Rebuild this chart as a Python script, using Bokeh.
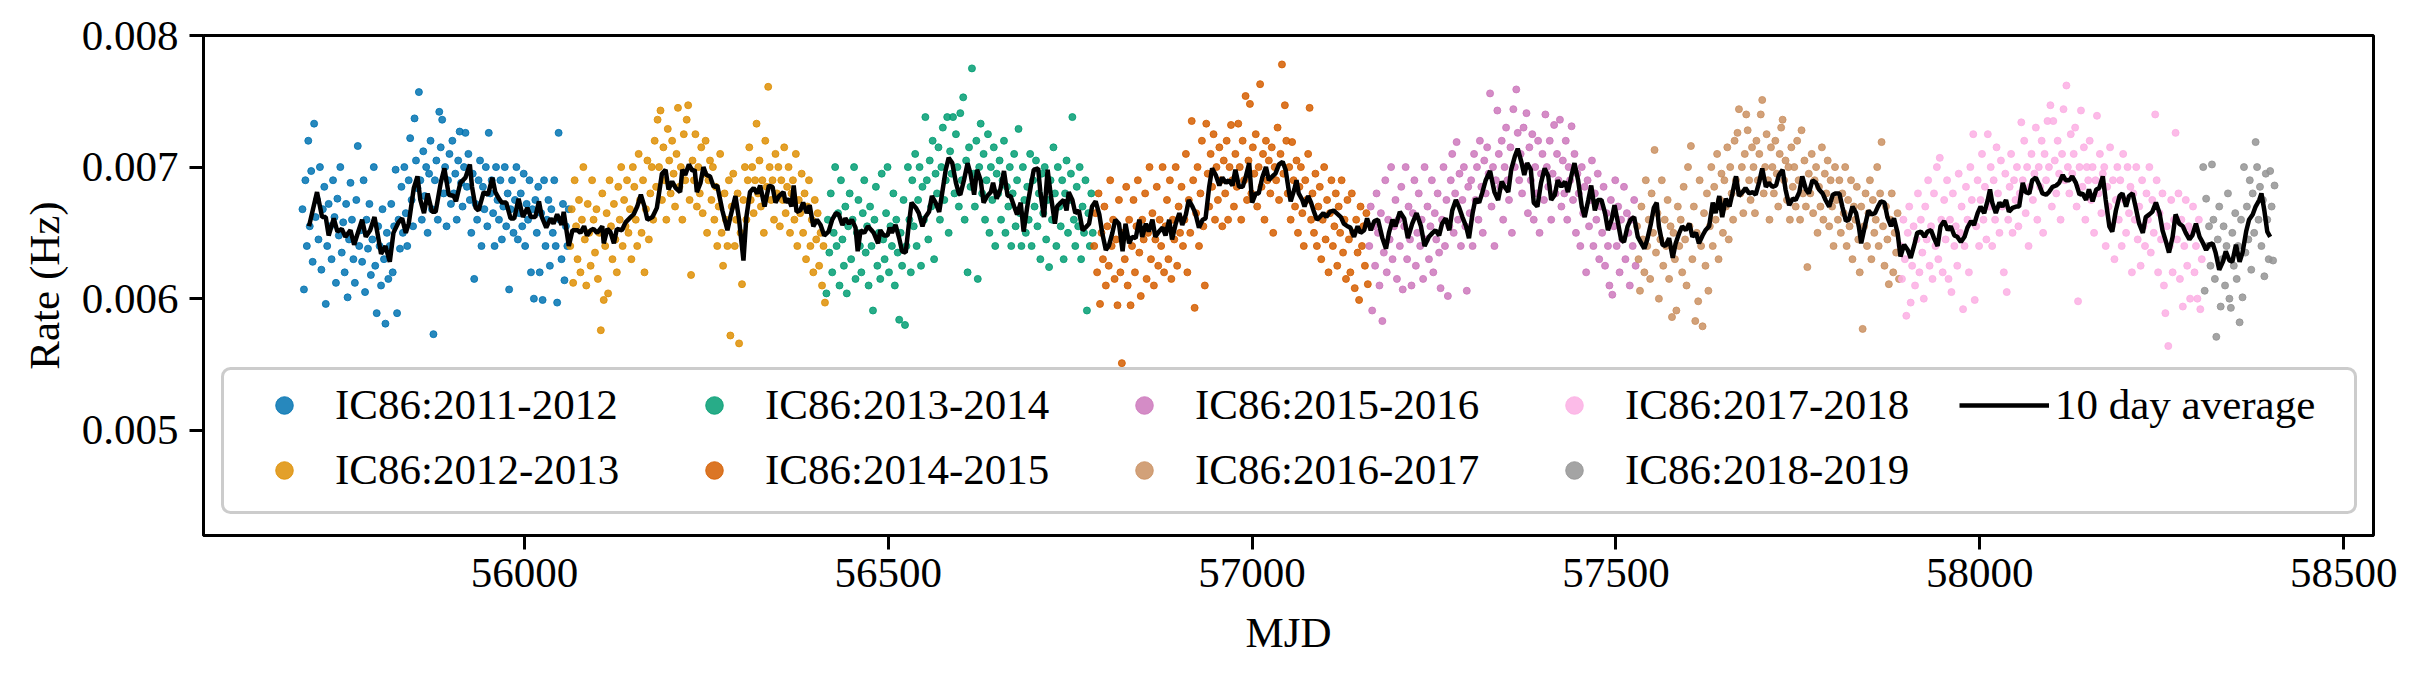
import numpy as np
from bokeh.plotting import figure
from bokeh.models import Range1d, FixedTicker, PrintfTickFormatter, Legend, LegendItem, BoxAnnotation
from bokeh.embed import file_html
from bokeh.resources import INLINE

# rates below are in units of 1e-5 Hz
RATE_UNIT = 1e-5
DAY_STEP = 2

SEASON_LABELS = ["IC86:2011-2012", "IC86:2012-2013", "IC86:2013-2014", "IC86:2014-2015",
                 "IC86:2015-2016", "IC86:2016-2017", "IC86:2017-2018", "IC86:2018-2019"]
SEASON_COLORS = ["#0173b2", "#de8f05", "#029e73", "#d55e00",
                 "#cc78bc", "#ca9161", "#fbafe4", "#949494"]
SEASON_FIRST_DAY = [55695, 56063, 56415, 56783, 57161, 57529, 57891, 58307]

RATE_2011 = [668, 607, 690, 640, 720, 655, 697, 628, 733, 662,
             675, 645, 700, 622, 668, 685, 596, 640, 672, 655,
             630, 690, 662, 612, 676, 648, 700, 635, 658, 620,
             672, 601, 645, 688, 660, 630, 612, 675, 716, 640,
             652, 628, 690, 605, 660, 638, 672, 618, 645, 700,
             625, 589, 655, 640, 610, 668, 630, 581, 650, 615,
             640, 672, 620, 655, 698, 589, 660, 638, 685, 650,
             700, 665, 640, 690, 722, 675, 655, 737, 705, 684,
             757, 690, 660, 712, 678, 700, 650, 695, 720, 668,
             573, 690, 705, 660, 742, 715, 736, 680, 700, 655,
             690, 710, 672, 720, 680, 695, 660, 705, 727, 688,
             670, 700, 726, 685, 710, 675, 650, 695, 615, 672,
             660, 690, 705, 640, 685, 668, 700, 655, 726, 680,
             690, 665, 640, 700, 675, 660, 690, 645, 670, 700,
             655, 680, 607, 668, 690, 650, 675, 700, 645, 665,
             680, 655, 695, 640, 672, 660, 690, 620, 668, 600,
             675, 650, 685, 620, 665, 599, 690, 640, 660, 675,
             625, 668, 650, 690, 640, 597, 726, 660, 630, 672,
             614, 655, 640, 668]
RATE_2012 = [640, 668, 612, 690, 655, 630, 675, 620, 660, 700,
             645, 610, 672, 650, 625, 690, 660, 635, 668, 615,
             650, 576, 680, 599, 640, 665, 604, 690, 655, 630,
             672, 645, 620, 685, 660, 700, 640, 675, 655, 690,
             650, 668, 630, 700, 685, 660, 640, 710, 675, 650,
             690, 620, 668, 705, 645, 680, 700, 660, 720, 685,
             736, 700, 743, 675, 715, 690, 660, 729, 705, 680,
             720, 695, 670, 710, 745, 685, 700, 660, 725, 690,
             736, 747, 675, 618, 705, 690, 725, 670, 700, 680,
             715, 665, 695, 720, 650, 690, 705, 675, 700, 660,
             685, 640, 670, 710, 650, 625, 680, 660, 640, 690,
             572, 670, 695, 640, 660, 680, 566, 650, 611, 675,
             700, 660, 690, 715, 675, 700, 665, 690, 733, 680,
             705, 670, 690, 650, 720, 685, 761, 700, 675, 690,
             660, 710, 680, 700, 655, 690, 675, 715, 665, 685,
             700, 650, 680, 690, 660, 710, 640, 675, 665, 695,
             650, 680, 630, 670, 690, 640, 660, 620, 675, 645,
             665, 625, 650, 610, 640, 597]
RATE_2013 = [604, 660, 635, 680, 620, 650, 700, 640, 665, 610,
             690, 645, 625, 670, 604, 655, 680, 630, 660, 700,
             615, 650, 675, 640, 620, 665, 690, 635, 655, 610,
             670, 640, 591, 660, 685, 625, 650, 615, 695, 645,
             630, 665, 700, 620, 655, 640, 680, 610, 660, 635,
             584, 650, 625, 675, 580, 640, 700, 660, 620, 690,
             655, 710, 640, 675, 700, 625, 685, 660, 738, 690,
             645, 705, 670, 720, 630, 695, 680, 715, 660, 700,
             730, 675, 690, 738, 650, 712, 695, 738, 680, 725,
             700, 670, 741, 690, 753, 660, 705, 620, 715, 685,
             775, 695, 670, 720, 615, 700, 733, 680, 710, 660,
             690, 725, 650, 700, 675, 715, 640, 695, 680, 705,
             660, 690, 720, 650, 685, 670, 700, 640, 680, 710,
             655, 690, 729, 665, 640, 700, 675, 650, 685, 660,
             710, 640, 690, 670, 705, 655, 680, 630, 695, 665,
             700, 645, 675, 624, 690, 660, 715, 680, 640, 700,
             670, 655, 690, 630, 680, 705, 650, 675, 695, 738,
             660, 640, 685, 655, 700, 630, 670, 650, 690, 591,
             665, 640, 680, 650]
RATE_2014 = [640, 665, 620, 680, 596, 650, 630, 670, 610, 655,
             625, 690, 640, 660, 615, 645, 595, 675, 620, 551,
             650, 630, 685, 610, 660, 595, 640, 675, 620, 655,
             690, 635, 602, 660, 645, 680, 615, 650, 700, 630,
             665, 610, 645, 685, 625, 660, 640, 700, 620, 655,
             675, 630, 690, 615, 660, 645, 700, 625, 670, 650,
             685, 640, 660, 710, 620, 675, 650, 735, 690, 593,
             665, 700, 640, 680, 720, 655, 610, 733, 695, 670,
             710, 685, 725, 660, 700, 675, 715, 690, 655, 705,
             680, 720, 660, 700, 732, 690, 670, 710, 685, 733,
             700, 660, 720, 690, 754, 675, 705, 748, 680, 715,
             695, 725, 670, 700, 763, 685, 710, 660, 720, 690,
             705, 680, 715, 650, 700, 690, 730, 675, 710, 778,
             695, 747, 720, 680, 700, 660, 719, 690, 670, 705,
             650, 685, 700, 665, 640, 690, 675, 710, 745, 660,
             680, 650, 695, 640, 670, 685, 630, 660, 700, 645,
             675, 620, 665, 690, 640, 655, 680, 625, 670, 650,
             690, 635, 660, 615, 675, 645, 620, 680, 650, 608,
             660, 635, 599, 670, 640, 655, 625, 665, 611]
RATE_2015 = [640, 670, 591, 655, 625, 680, 650, 610, 665, 583,
             635, 690, 620, 660, 645, 700, 630, 655, 675, 615,
             660, 640, 685, 607, 655, 700, 630, 670, 645, 610,
             665, 690, 625, 650, 680, 640, 660, 615, 700, 645,
             670, 630, 655, 690, 620, 665, 645, 680, 635, 608,
             660, 700, 640, 675, 602, 655, 690, 710, 650, 680,
             719, 660, 695, 640, 675, 700, 655, 606, 685, 665,
             690, 640, 710, 675, 700, 660, 720, 685, 650, 705,
             680, 715, 695, 756, 670, 700, 640, 690, 743, 710,
             685, 720, 660, 700, 730, 690, 675, 715, 650, 744,
             700, 759, 726, 690, 710, 680, 730, 700, 741, 665,
             715, 690, 725, 660, 700, 680, 720, 650, 695, 710,
             675, 740, 700, 685, 720, 660, 695, 732, 680, 710,
             690, 736, 670, 705, 680, 720, 660, 700, 690, 731,
             675, 710, 650, 695, 680, 640, 700, 665, 685, 620,
             690, 655, 675, 705, 640, 680, 660, 695, 630, 670,
             650, 685, 625, 665, 640, 610, 675, 603, 655, 690,
             640, 670, 620, 660, 645, 685, 630, 665, 650, 610,
             660, 640, 675, 625]
RATE_2016 = [655, 630, 606, 670, 645, 620, 690, 640, 660, 615,
             680, 650, 713, 635, 665, 600, 645, 690, 625, 660,
             640, 675, 615, 655, 586, 650, 630, 591, 670, 640,
             660, 620, 685, 645, 610, 700, 655, 716, 630, 670,
             583, 650, 598, 690, 640, 579, 665, 625, 680, 606,
             655, 700, 640, 685, 660, 710, 630, 675, 695, 650,
             690, 670, 715, 645, 700, 680, 660, 720, 690, 726,
             744, 680, 700, 665, 710, 740, 728, 690, 675, 715,
             700, 665, 720, 690, 710, 740, 751, 680, 700, 725,
             690, 660, 715, 700, 680, 720, 695, 670, 710, 730,
             736, 690, 705, 675, 700, 660, 715, 685, 700, 670,
             720, 690, 660, 728, 680, 705, 670, 624, 695, 680,
             710, 665, 690, 700, 650, 685, 670, 715, 660, 695,
             680, 705, 655, 690, 670, 640, 700, 675, 660, 690,
             650, 680, 665, 700, 640, 675, 655, 690, 630, 670,
             660, 685, 645, 620, 670, 577, 655, 680, 640, 665,
             690, 630, 675, 650, 660, 700, 640, 680, 719, 655,
             625, 670, 645, 611, 660, 680, 620, 650, 635, 665, 615]
RATE_2017 = [640, 615, 660, 630, 587, 650, 670, 597, 625, 655,
             610, 645, 680, 620, 660, 635, 600, 670, 645, 690,
             625, 655, 615, 680, 640, 700, 630, 707, 660, 620,
             675, 645, 690, 615, 660, 605, 680, 640, 655, 625,
             695, 650, 670, 592, 640, 685, 660, 620, 700, 675,
             725, 599, 655, 690, 640, 675, 710, 660, 685, 645,
             725, 670, 700, 640, 690, 660, 715, 680, 650, 705,
             670, 620, 695, 605, 660, 685, 710, 650, 690, 675,
             700, 655, 680, 734, 690, 720, 665, 700, 640, 685,
             710, 675, 695, 730, 660, 700, 685, 720, 650, 710,
             690, 735, 700, 747, 670, 735, 705, 680, 720, 695,
             660, 710, 744, 690, 762, 700, 680, 725, 695, 710,
             730, 670, 598, 700, 743, 685, 715, 660, 700, 690,
             720, 675, 700, 650, 690, 739, 680, 710, 665, 695,
             700, 640, 685, 670, 715, 655, 690, 630, 675, 700,
             660, 690, 640, 710, 675, 650, 700, 665, 685, 620,
             680, 660, 700, 645, 670, 625, 690, 655, 640, 680,
             660, 700, 635, 675, 650, 740, 690, 620, 665, 645,
             680, 610, 589, 655, 564, 640, 675, 620, 660, 726,
             645, 680, 615, 660, 594, 640, 675, 625, 655, 600,
             650, 670, 620, 640, 600, 660, 592, 630]
RATE_2018 = [700, 606, 676, 640, 655, 625, 702, 660, 615, 571,
             645, 670, 594, 630, 655, 610, 640, 680, 600, 593,
             650, 625, 665, 615, 640, 582, 660, 601, 700, 635,
             670, 645, 690, 622, 680, 650, 719, 700, 660, 685,
             640, 675, 617, 695, 660, 630, 697, 670, 629, 686]

LINE_LABEL = "10 day average"
LINE_MJD = [
    55704, 55715, 55722, 55727, 55731, 55738, 55743, 55749, 55754, 55761, 55766, 55770, 55777, 55782,
    55788, 55794, 55798, 55803, 55809, 55815, 55820, 55827, 55832, 55837, 55841, 55848, 55853, 55857,
    55862, 55867, 55873, 55878, 55885, 55890, 55896, 55903, 55906, 55912, 55919, 55925, 55928, 55933,
    55937, 55944, 55950, 55956, 55960, 55965, 55969, 55975, 55981, 55986, 55992, 55998, 56004, 56009,
    56015, 56020, 56024, 56030, 56036, 56040, 56045, 56051, 56054, 56061, 56066, 56073, 56077, 56082,
    56086, 56091, 56095, 56100, 56107, 56109, 56114, 56118, 56123, 56127, 56134, 56139, 56146,
    56150, 56155, 56160, 56165, 56169, 56176, 56182, 56189, 56194, 56198, 56203, 56208, 56214, 56217,
    56221, 56226, 56231, 56234, 56237, 56242, 56246, 56250, 56255, 56260, 56265, 56272, 56279, 56283,
    56290, 56295, 56301, 56305, 56310, 56315, 56320, 56324, 56330, 56336, 56341, 56345, 56350, 56356,
    56359, 56363, 56367, 56370, 56374, 56379, 56383, 56388, 56392, 56397, 56402, 56407, 56412, 56418,
    56423, 56428, 56432, 56437, 56441, 56446, 56450, 56455, 56458, 56462, 56467, 56472, 56477, 56480,
    56486, 56489, 56494, 56499, 56502, 56505, 56510, 56515, 56519, 56524, 56528, 56532, 56538, 56542,
    56547, 56551, 56556, 56560, 56565, 56570, 56574, 56579, 56583, 56588, 56593, 56597,
    56599, 56604, 56609, 56613, 56618, 56622, 56627, 56631, 56636, 56641, 56644, 56649, 56654, 56659,
    56664, 56668, 56673, 56677, 56682, 56686, 56691, 56696, 56700, 56706, 56709, 56714, 56719, 56723,
    56729, 56732, 56737, 56741, 56745, 56748, 56753, 56757, 56762, 56767, 56771, 56776, 56780, 56785,
    56790, 56794, 56799, 56803, 56808, 56812, 56817, 56822, 56826, 56831, 56835, 56840, 56845, 56849,
    56854, 56858, 56863, 56867, 56872, 56877, 56881, 56886, 56890, 56895, 56900, 56904, 56909, 56913,
    56918, 56922, 56927, 56932, 56936, 56941, 56945, 56950, 56955, 56959, 56964, 56968, 56973, 56977,
    56982, 56987, 56991, 56996, 57000, 57005, 57009, 57014, 57019, 57023, 57028, 57032, 57037, 57042,
    57046, 57051,
    57053, 57058, 57061, 57064, 57069, 57072, 57077, 57081, 57085, 57089, 57093, 57098, 57102, 57107,
    57112, 57116, 57122, 57126, 57131, 57135, 57140, 57145, 57149, 57154, 57158, 57163, 57168, 57173,
    57179, 57184, 57188, 57193, 57197, 57203, 57209, 57214, 57220, 57226, 57232, 57237, 57243, 57248,
    57252, 57257, 57261, 57266, 57271, 57275, 57280, 57284, 57289, 57294, 57298, 57303, 57307, 57312,
    57316, 57321, 57327, 57333, 57338, 57343, 57347, 57352, 57356, 57361, 57365, 57370, 57374, 57378,
    57383, 57387, 57392, 57397, 57402, 57407, 57411, 57416, 57420, 57425, 57430, 57434, 57439, 57443,
    57448, 57453, 57457, 57462, 57466, 57471, 57475, 57480, 57485, 57489, 57494, 57498, 57503, 57507,
    57511, 57516, 57520, 57525, 57530, 57534, 57539, 57543, 57548, 57552, 57556, 57559, 57564, 57568,
    57573, 57578, 57582, 57587, 57591, 57596, 57601, 57605, 57610, 57614, 57619, 57623, 57628, 57633,
    57637, 57642, 57646, 57651, 57656, 57660, 57665, 57669, 57674, 57678, 57683, 57688, 57692, 57697,
    57701, 57706, 57710, 57715, 57720, 57724, 57729, 57733, 57738, 57743, 57747, 57752, 57756, 57761,
    57765, 57770, 57775, 57779, 57784, 57788, 57793, 57798, 57802, 57807, 57811, 57816, 57820, 57825,
    57830, 57834, 57837, 57842, 57847, 57851, 57856, 57860, 57864, 57869, 57873, 57878, 57882, 57887,
    57891, 57896, 57901, 57905, 57910, 57914, 57919, 57924, 57928, 57933, 57937, 57942, 57946, 57951,
    57956, 57960,
    57965, 57969, 57974, 57979, 57983, 57988, 57992, 57997, 58001, 58006, 58011, 58014, 58017, 58022,
    58027, 58031, 58036, 58040, 58045, 58050, 58054, 58059, 58063, 58068, 58072, 58077, 58082, 58086,
    58091, 58095, 58100, 58105, 58109, 58114, 58118, 58123, 58127, 58132, 58137, 58141, 58146, 58150,
    58155, 58160, 58164, 58169, 58173, 58178, 58182, 58187, 58192, 58196, 58201, 58205, 58210, 58214,
    58219, 58224, 58228, 58233, 58237, 58242, 58247, 58251, 58256, 58260, 58265, 58269, 58274, 58279,
    58283, 58288, 58292, 58297, 58302, 58306, 58311, 58315, 58320, 58324, 58329, 58334, 58338, 58343,
    58347, 58352, 58357, 58361, 58366, 58370, 58375, 58379, 58384, 58387, 58391, 58395, 58399]
LINE_RATE = [
    655, 681, 662, 662, 648, 661, 651, 653, 647, 652, 641, 648, 660, 647,
    652, 662, 650, 634, 640, 628, 650, 658, 661, 650, 657, 684, 693, 675,
    665, 680, 666, 666, 688, 699, 679, 678, 674, 688, 692, 702, 685, 669,
    667, 681, 679, 692, 681, 676, 673, 673, 661, 661, 676, 662, 669, 662,
    662, 674, 662, 654, 661, 657, 664, 656, 666, 640, 652, 652, 650, 655,
    648, 652, 653, 650, 655, 642, 653, 651, 642, 653, 652, 658, 662,
    664, 670, 679, 670, 660, 662, 669, 695, 698, 683, 689, 684, 681, 698,
    694, 702, 697, 698, 681, 688, 700, 694, 693, 685, 686, 667, 652, 662,
    678, 660, 629, 662, 681, 684, 680, 686, 670, 686, 685, 673, 678, 681,
    673, 676, 670, 686, 666, 667, 673, 665, 671, 655, 660, 656, 648, 651,
    660, 665, 664, 656, 661, 657, 660, 654, 636, 652, 650, 655, 652, 650,
    642, 652, 648, 648, 654, 650, 656, 646, 636, 635, 655, 673, 669, 665,
    655, 662, 666, 678, 673, 666, 680, 698, 707, 703, 688, 680,
    679, 690, 703, 695, 679, 698, 690, 673, 678, 681, 688, 676, 683, 697,
    678, 678, 670, 664, 673, 651, 670, 686, 698, 699, 681, 662, 698, 680,
    657, 670, 673, 675, 667, 681, 675, 665, 667, 652, 654, 657, 670, 674,
    664, 650, 637, 640, 650, 660, 657, 636, 657, 642, 647, 646, 660, 647,
    657, 651, 660, 647, 651, 654, 648, 660, 645, 657, 665, 656, 664, 675,
    670, 665, 654, 660, 661, 685, 699, 694, 686, 692, 688, 690, 686, 698,
    685, 685, 692, 703, 673, 680, 680, 692, 700, 690, 693, 695, 702, 704,
    698, 680,
    674, 683, 690, 680, 675, 670, 678, 673, 666, 660, 662, 665, 662, 666,
    667, 665, 662, 657, 655, 654, 647, 655, 650, 652, 661, 652, 659, 660,
    646, 638, 650, 660, 655, 666, 661, 646, 657, 665, 655, 640, 647, 650,
    652, 648, 657, 661, 652, 667, 675, 670, 662, 655, 646, 665, 676, 673,
    680, 690, 697, 681, 675, 689, 685, 681, 698, 708, 714, 704, 694, 703,
    698, 673, 670, 688, 699, 693, 675, 679, 690, 685, 689, 681, 694, 703,
    690, 670, 662, 675, 686, 667, 675, 675, 665, 652, 660, 671, 657, 645,
    643, 655, 660, 662, 647, 643, 638, 645, 657, 669, 673, 655, 641, 640,
    646, 631, 642, 650, 655, 652, 657, 647, 650, 642, 648, 652, 655, 673,
    665, 678, 662, 676, 670, 680, 693, 678, 681, 684, 680, 681, 679, 689,
    699, 685, 688, 685, 686, 694, 698, 683, 671, 676, 675, 681, 693, 683,
    680, 690, 688, 683, 680, 675, 670, 679, 680, 680, 670, 659, 660, 670,
    665, 654, 642, 655, 667, 664, 665, 670, 674, 673, 662, 655, 661, 650,
    632, 641, 637, 631, 641, 650, 651, 647, 651, 652, 646, 640, 655, 659,
    652, 655,
    648, 647, 643, 647, 654, 659, 656, 665, 670, 665, 675, 683, 673, 665,
    673, 670, 675, 666, 669, 670, 670, 688, 681, 680, 690, 692, 686, 680,
    679, 681, 685, 686, 688, 694, 690, 690, 693, 688, 679, 680, 675, 683,
    674, 683, 684, 693, 675, 655, 651, 667, 678, 680, 670, 678, 680, 670,
    657, 650, 662, 664, 666, 673, 665, 652, 643, 635, 647, 664, 657, 655,
    650, 645, 648, 657, 647, 643, 637, 641, 642, 635, 622, 628, 636, 629,
    628, 641, 628, 635, 651, 660, 664, 670, 675, 680, 667, 651, 647]

X_TICKS = [56000, 56500, 57000, 57500, 58000, 58500]
Y_TICKS = [0.005, 0.006, 0.007, 0.008]
X_LIMITS = (55559, 58541)
Y_LIMITS = (0.0042, 0.008)

FONT = "Liberation Serif"
FS = "43px"

p = figure(width=2410, height=674,
           x_range=Range1d(*X_LIMITS), y_range=Range1d(*Y_LIMITS),
           output_backend="svg", toolbar_location=None,
           min_border_left=203, min_border_right=37, min_border_top=35, min_border_bottom=139,
           x_axis_label="MJD", y_axis_label="Rate (Hz)")
p.grid.visible = False
p.outline_line_color = "black"
p.outline_line_width = 3
p.outline_line_alpha = 1
p.background_fill_color = "white"
p.border_fill_color = "white"

for ax in (p.xaxis[0], p.yaxis[0]):
    ax.axis_line_width = 3
    ax.axis_line_color = "black"
    ax.major_tick_line_width = 3
    ax.major_tick_line_color = "black"
    ax.major_tick_out = 14
    ax.major_tick_in = 0
    ax.minor_tick_out = 0
    ax.minor_tick_in = 0
    ax.major_label_text_font = FONT
    ax.major_label_text_font_size = FS
    ax.major_label_text_color = "black"
    ax.axis_label_text_font = FONT
    ax.axis_label_text_font_size = FS
    ax.axis_label_text_font_style = "normal"
    ax.axis_label_text_color = "black"

p.xaxis.ticker = FixedTicker(ticks=X_TICKS)
p.xaxis.formatter = PrintfTickFormatter(format="%d")
p.yaxis.ticker = FixedTicker(ticks=Y_TICKS)
p.yaxis.formatter = PrintfTickFormatter(format="%.3f")
p.xaxis.major_label_standoff = 9
p.xaxis.axis_label_standoff = 19
p.yaxis.major_label_standoff = 11
p.yaxis.axis_label_standoff = 11

season_rates = [RATE_2011, RATE_2012, RATE_2013, RATE_2014,
                RATE_2015, RATE_2016, RATE_2017, RATE_2018]
renderers = []
for first, rates, color in zip(SEASON_FIRST_DAY, season_rates, SEASON_COLORS):
    mjd = first + DAY_STEP * np.arange(len(rates))
    r = p.scatter(mjd, np.array(rates) * RATE_UNIT, size=7,
                  fill_color=color, line_color=color, fill_alpha=0.85, line_alpha=0.85, line_width=1)
    renderers.append(r)

avg = p.line(LINE_MJD, np.array(LINE_RATE) * RATE_UNIT, line_color="black", line_width=4.5)

frame_box = BoxAnnotation(left=222, right=2355, top=368, bottom=512,
                          left_units="canvas", right_units="canvas",
                          top_units="canvas", bottom_units="canvas",
                          fill_color="white", fill_alpha=0.8,
                          line_color="#cccccc", line_width=3, line_alpha=1,
                          border_radius=8)
p.add_layout(frame_box)


def make_legend(items, loc):
    lg = Legend(items=items, location=loc, orientation="horizontal",
                padding=0, margin=0, spacing=34,
                label_width=300, label_height=44,
                glyph_width=90, glyph_height=44, label_standoff=6,
                label_text_font=FONT, label_text_font_size=FS, label_text_color="black",
                background_fill_alpha=0, border_line_alpha=0)
    p.add_layout(lg)
    return lg


row1 = [LegendItem(label=SEASON_LABELS[i], renderers=[renderers[i]]) for i in (0, 2, 4, 6)]
row1.append(LegendItem(label=LINE_LABEL, renderers=[avg]))
row2 = [LegendItem(label=SEASON_LABELS[i], renderers=[renderers[i]]) for i in (1, 3, 5, 7)]
make_legend(row1, (36, 106))
make_legend(row2, (36, 41))

open("out.html", "w").write(file_html(p, INLINE))
